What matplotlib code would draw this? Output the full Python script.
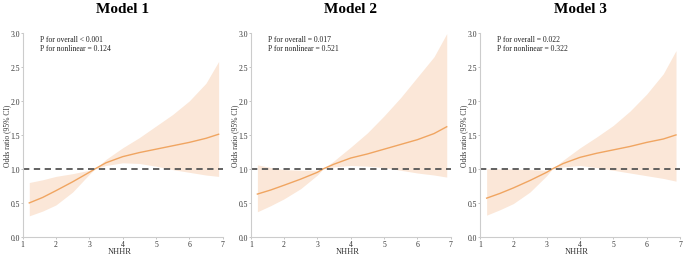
import matplotlib
matplotlib.use("Agg")
import matplotlib.pyplot as plt

plt.rcParams['font.family'] = ['Liberation Serif', 'DejaVu Serif']

nhhr = [1.2, 1.6, 2.0, 2.5, 3.0, 3.17, 3.5, 4.0, 4.5, 5.0, 5.5, 6.0, 6.5, 6.88]

titles = ["Model 1", "Model 2", "Model 3"]
p_overall = ["P for overall < 0.001", "P for overall = 0.017", "P for overall = 0.022"]
p_nonlinear = ["P for nonlinear = 0.124", "P for nonlinear = 0.521", "P for nonlinear = 0.322"]

or_m1 = [0.50, 0.58, 0.68, 0.81, 0.95, 1.0, 1.09, 1.18, 1.24, 1.29, 1.34, 1.39, 1.45, 1.51]
hi_m1 = [0.80, 0.84, 0.89, 0.93, 0.98, 1.0, 1.14, 1.31, 1.46, 1.63, 1.80, 2.00, 2.26, 2.58]
lo_m1 = [0.31, 0.38, 0.47, 0.66, 0.92, 1.0, 1.05, 1.09, 1.08, 1.04, 0.99, 0.95, 0.91, 0.89]

or_m2 = [0.63, 0.69, 0.76, 0.85, 0.95, 1.0, 1.07, 1.16, 1.22, 1.29, 1.36, 1.43, 1.52, 1.62]
hi_m2 = [1.06, 1.02, 0.99, 0.98, 0.98, 1.0, 1.12, 1.32, 1.53, 1.78, 2.05, 2.35, 2.65, 2.99]
lo_m2 = [0.37, 0.46, 0.56, 0.71, 0.91, 1.0, 1.03, 1.05, 1.04, 1.02, 0.98, 0.94, 0.91, 0.88]

or_m3 = [0.57, 0.64, 0.72, 0.83, 0.95, 1.0, 1.08, 1.17, 1.23, 1.28, 1.33, 1.39, 1.44, 1.50]
hi_m3 = [1.00, 1.00, 1.00, 0.99, 0.98, 1.0, 1.13, 1.31, 1.47, 1.64, 1.85, 2.10, 2.40, 2.74]
lo_m3 = [0.32, 0.40, 0.49, 0.66, 0.90, 1.0, 1.03, 1.05, 1.02, 0.98, 0.94, 0.90, 0.86, 0.82]

models = [(or_m1, lo_m1, hi_m1), (or_m2, lo_m2, hi_m2), (or_m3, lo_m3, hi_m3)]

fig = plt.figure(figsize=(6.85, 2.55), dpi=100)
lefts = [0.033, 0.366, 0.7007]

for i, (odds, lo, hi) in enumerate(models):
    ax = fig.add_axes([lefts[i], 0.067, 0.292, 0.80])
    ax.fill_between(nhhr, lo, hi, color='#fbe7d8', lw=0)
    ax.plot(nhhr, odds, color='#f0a561', lw=1.0)
    ax.axhline(1.0, color='#555555', lw=1.3, ls=(0, (3.5, 2.5)))
    ax.set_xlim(1, 7)
    ax.set_ylim(0, 3)
    ax.set_xticks([1, 2, 3, 4, 5, 6, 7])
    ax.set_yticks([0, 0.5, 1.0, 1.5, 2.0, 2.5, 3.0])
    ax.set_yticklabels(['0.0', '0.5', '1.0', '1.5', '2.0', '2.5', '3.0'])
    ax.tick_params(labelsize=5.5, length=1.5, width=0.6, color='#bbbbbb', pad=0.6, labelcolor='#333333')
    for s in ['top', 'right']:
        ax.spines[s].set_visible(False)
    for s in ['left', 'bottom']:
        ax.spines[s].set_color('#cccccc')
        ax.spines[s].set_linewidth(0.8)
    ax.set_xlabel('NHHR', fontsize=6, color='#333333', va='center')
    ax.xaxis.set_label_coords(0.485, -0.068)
    ax.set_ylabel('Odds ratio (95% CI)', fontsize=5.5, color='#333333', va='center')
    ax.yaxis.set_label_coords(-0.078, 0.5)
    ax.set_title(titles[i], fontsize=11, fontweight='bold', pad=15)
    ax.text(0.085, 0.99, p_overall[i], transform=ax.transAxes, fontsize=5.5, va='top', color='#222222')
    ax.text(0.085, 0.945, p_nonlinear[i], transform=ax.transAxes, fontsize=5.5, va='top', color='#222222')

fig.savefig('out.png', dpi=100)
